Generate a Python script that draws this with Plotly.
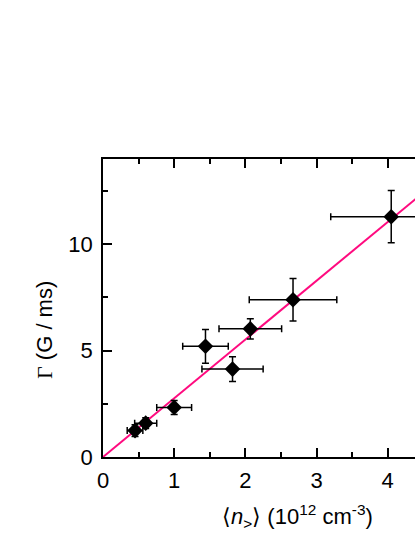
import plotly.graph_objects as go

# data
density = [0.45, 0.60, 1.00, 1.44, 1.82, 2.07, 2.67, 4.05]      # <n>> (10^12 cm^-3)
gamma = [1.24, 1.59, 2.33, 5.20, 4.13, 6.02, 7.39, 11.29]        # Gamma (G / ms)
density_err = [0.11, 0.155, 0.245, 0.32, 0.43, 0.44, 0.615, 0.85]
gamma_err = [0.28, 0.25, 0.33, 0.79, 0.58, 0.48, 1.0, 1.23]

fit_x = [0, 5]
fit_y = [0, 13.8]

fig = go.Figure()

# linear fit
fig.add_trace(go.Scatter(x=fit_x, y=fit_y, mode='lines',
                         line=dict(color='#ff0a7f', width=2),
                         showlegend=False, hoverinfo='skip'))

# measured points
fig.add_trace(go.Scatter(x=density, y=gamma, mode='markers',
                         marker=dict(symbol='diamond', size=12, color='black'),
                         error_x=dict(type='data', array=density_err, color='black',
                                      thickness=1.5, width=3.5),
                         error_y=dict(type='data', array=gamma_err, color='black',
                                      thickness=1.5, width=3.5),
                         showlegend=False))

tickfont = dict(family='Liberation Sans', size=22, color='black')

fig.update_xaxes(range=[0, 4.384], tickvals=[0, 1, 2, 3, 4],
                 ticks='inside', ticklen=9, tickwidth=1.5, tickcolor='black',
                 minor=dict(dtick=0.5, tick0=0, ticks='inside', ticklen=5,
                            tickwidth=1.5, tickcolor='black'),
                 showline=True, linewidth=1.5, linecolor='black', mirror='ticks',
                 showgrid=False, zeroline=False, tickfont=tickfont,
                 ticklabelstandoff=3, automargin=False)
fig.update_yaxes(range=[0, 14], tickvals=[0, 5, 10],
                 ticks='inside', ticklen=9, tickwidth=1.5, tickcolor='black',
                 minor=dict(dtick=2.5, tick0=0, ticks='inside', ticklen=5,
                            tickwidth=1.5, tickcolor='black'),
                 showline=True, linewidth=1.5, linecolor='black', mirror=False,
                 showgrid=False, zeroline=False, tickfont=tickfont,
                 ticklabelstandoff=4, automargin=False)

fig.update_layout(
    width=415, height=537,
    margin=dict(l=103, r=0, t=159, b=80),
    plot_bgcolor='white', paper_bgcolor='white',
    annotations=[
        dict(text='\u27e8<i>n</i><sub>></sub>\u27e9 (10<sup>12</sup> cm<sup>-3</sup>)',
             x=(297 - 103) / 312, xref='paper', y=(457 - 516) / 298, yref='paper',
             showarrow=False, xanchor='center', yanchor='middle',
             font=dict(family='Liberation Sans', size=22, color='black')),
        dict(text='<span style="font-family:Liberation Serif">\u0393</span> (G / ms)',
             x=(44 - 103) / 312, xref='paper', y=(457 - 330) / 298, yref='paper',
             showarrow=False, textangle=-90, xanchor='center', yanchor='middle',
             font=dict(family='Liberation Sans', size=22, color='black')),
    ],
)

# page body has a default 8px margin; drop it so the figure sits at the window corner
fig.write_html("out.html", config={'displayModeBar': False},
               post_script="document.body.style.margin='0px';")
